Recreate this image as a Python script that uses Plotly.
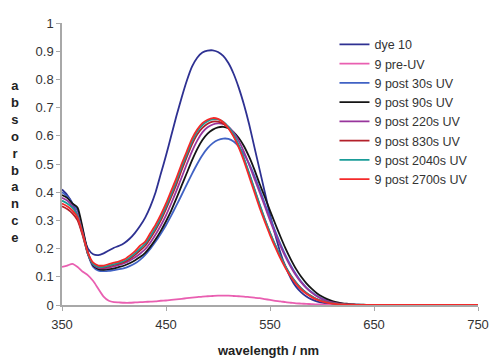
import plotly.graph_objects as go

wavelength = [350, 355, 360, 365, 370, 375, 380, 385, 390, 395, 400, 405, 410, 415, 420,
              425, 430, 435, 440, 445, 450, 455, 460, 465, 470, 475, 480, 485, 490, 495,
              500, 505, 510, 515, 520, 525, 530, 535, 540, 545, 550, 555, 560, 565, 570,
              575, 580, 585, 590, 595, 600, 605, 610, 615, 620, 625, 630, 635, 640, 645,
              650, 700, 750]

dye_10 = [0.41, 0.39, 0.36, 0.31, 0.25, 0.20, 0.18, 0.177, 0.183, 0.193, 0.203, 0.21, 0.22, 0.235, 0.255,
          0.28, 0.31, 0.35, 0.40, 0.465, 0.53, 0.60, 0.67, 0.735, 0.795, 0.845, 0.877, 0.895, 0.902, 0.903,
          0.897, 0.883, 0.858, 0.82, 0.77, 0.71, 0.64, 0.56, 0.48, 0.40, 0.32, 0.25, 0.185, 0.135, 0.095,
          0.065, 0.045, 0.03, 0.02, 0.013, 0.008, 0.005, 0.003, 0.002, 0.001, 0, 0, 0, 0, 0,
          0, 0, 0]

pre_uv = [0.135, 0.14, 0.146, 0.135, 0.118, 0.105, 0.085, 0.057, 0.03, 0.015, 0.01, 0.009, 0.008, 0.008, 0.009,
          0.01, 0.011, 0.012, 0.013, 0.015, 0.016, 0.018, 0.02, 0.022, 0.024, 0.026, 0.028, 0.03, 0.031, 0.032,
          0.033, 0.033, 0.033, 0.032, 0.031, 0.03, 0.028, 0.026, 0.024, 0.021, 0.018, 0.015, 0.013, 0.01, 0.008,
          0.006, 0.005, 0.004, 0.003, 0.002, 0.002, 0.001, 0.001, 0, 0, 0, 0, 0, 0, 0,
          0, 0, 0]

post_30s = [0.40, 0.385, 0.36, 0.335, 0.265, 0.18, 0.135, 0.122, 0.12, 0.121, 0.124, 0.127, 0.131, 0.138, 0.147,
            0.16, 0.178, 0.2, 0.225, 0.253, 0.283, 0.317, 0.353, 0.39, 0.428, 0.465, 0.5, 0.531, 0.556, 0.574,
            0.585, 0.59, 0.589, 0.58, 0.562, 0.535, 0.5, 0.458, 0.41, 0.36, 0.31, 0.262, 0.217, 0.176, 0.14,
            0.109, 0.083, 0.062, 0.046, 0.033, 0.023, 0.016, 0.01, 0.007, 0.004, 0.002, 0.001, 0.001, 0, 0,
            0, 0, 0]

post_90s = [0.39, 0.38, 0.36, 0.345, 0.27, 0.185, 0.14, 0.127, 0.125, 0.127, 0.13, 0.135, 0.14, 0.148, 0.158,
            0.17, 0.185, 0.207, 0.233, 0.263, 0.297, 0.335, 0.378, 0.423, 0.468, 0.513, 0.553, 0.585, 0.608, 0.622,
            0.63, 0.632, 0.627, 0.613, 0.592, 0.563, 0.525, 0.48, 0.43, 0.383, 0.335, 0.288, 0.243, 0.2, 0.162,
            0.128, 0.1, 0.077, 0.058, 0.042, 0.03, 0.021, 0.014, 0.009, 0.006, 0.004, 0.002, 0.001, 0.001, 0,
            0, 0, 0]

post_220s = [0.38, 0.37, 0.35, 0.32, 0.255, 0.18, 0.143, 0.132, 0.13, 0.132, 0.137, 0.142, 0.148, 0.157, 0.168,
             0.182, 0.198, 0.222, 0.25, 0.282, 0.318, 0.36, 0.405, 0.452, 0.5, 0.545, 0.583, 0.612, 0.63, 0.64,
             0.644, 0.642, 0.632, 0.612, 0.582, 0.543, 0.497, 0.448, 0.40, 0.35, 0.30, 0.253, 0.21, 0.17, 0.135,
             0.105, 0.08, 0.06, 0.044, 0.031, 0.021, 0.014, 0.009, 0.006, 0.004, 0.002, 0.001, 0, 0, 0,
             0, 0, 0]

post_830s = [0.35, 0.34, 0.325, 0.30, 0.245, 0.18, 0.145, 0.135, 0.133, 0.137, 0.142, 0.147, 0.153, 0.163, 0.177,
             0.193, 0.21, 0.237, 0.267, 0.30, 0.34, 0.383, 0.428, 0.478, 0.525, 0.57, 0.605, 0.628, 0.643, 0.65,
             0.65, 0.643, 0.627, 0.60, 0.563, 0.517, 0.464, 0.41, 0.355, 0.303, 0.256, 0.212, 0.172, 0.136, 0.105,
             0.08, 0.059, 0.043, 0.031, 0.021, 0.014, 0.009, 0.006, 0.004, 0.002, 0.001, 0.001, 0, 0, 0,
             0, 0, 0]

post_2040s = [0.37, 0.36, 0.345, 0.315, 0.25, 0.18, 0.145, 0.135, 0.135, 0.14, 0.145, 0.15, 0.157, 0.168, 0.183,
              0.20, 0.218, 0.245, 0.275, 0.31, 0.35, 0.393, 0.44, 0.49, 0.535, 0.58, 0.615, 0.638, 0.652, 0.658,
              0.658, 0.65, 0.632, 0.605, 0.567, 0.52, 0.467, 0.412, 0.357, 0.305, 0.257, 0.213, 0.172, 0.136, 0.105,
              0.08, 0.059, 0.043, 0.031, 0.021, 0.014, 0.009, 0.006, 0.004, 0.002, 0.001, 0.001, 0, 0, 0,
              0, 0, 0]

post_2700s = [0.36, 0.35, 0.335, 0.31, 0.25, 0.185, 0.15, 0.14, 0.14, 0.145, 0.15, 0.155, 0.162, 0.175, 0.19,
              0.21, 0.225, 0.255, 0.285, 0.32, 0.36, 0.405, 0.45, 0.50, 0.545, 0.59, 0.622, 0.645, 0.657, 0.663,
              0.66, 0.648, 0.627, 0.597, 0.558, 0.51, 0.455, 0.40, 0.345, 0.295, 0.248, 0.205, 0.165, 0.13, 0.10,
              0.075, 0.055, 0.04, 0.028, 0.019, 0.013, 0.008, 0.005, 0.003, 0.002, 0.001, 0.001, 0, 0, 0,
              0, 0, 0]

series_names = ["dye 10", "9 pre-UV", "9 post 30s UV", "9 post 90s UV", "9 post 220s UV",
                "9 post 830s UV", "9 post 2040s UV", "9 post 2700s UV"]
series_values = [dye_10, pre_uv, post_30s, post_90s, post_220s, post_830s, post_2040s, post_2700s]
series_colors = ["#2e3192", "#e95fb1", "#4062c4", "#151515", "#98359c", "#b3202a", "#1a9c98", "#f42a2a"]

x_ticks = [350, 450, 550, 650, 750]
y_ticks = [0, 0.1, 0.2, 0.3, 0.4, 0.5, 0.6, 0.7, 0.8, 0.9, 1]
y_tick_labels = ["0", "0.1", "0.2", "0.3", "0.4", "0.5", "0.6", "0.7", "0.8", "0.9", "1"]

fig = go.Figure()
for name, vals, col in zip(series_names, series_values, series_colors):
    fig.add_trace(go.Scatter(x=wavelength, y=vals, name=name, mode="lines",
                             line=dict(color=col, width=1.8, shape="spline", smoothing=0.6)))

font_family = "Liberation Sans, Arial, sans-serif"
# page body has an 8px margin; figure size/margins compensate for it
fig.update_layout(
    width=489, height=352,
    margin=dict(l=54, r=11, t=8, b=55),
    paper_bgcolor="white", plot_bgcolor="white",
    font=dict(family=font_family, size=13, color="#333333"),
    showlegend=True,
    legend=dict(x=0.655, y=0.976, xanchor="left", yanchor="top",
                font=dict(size=12.5, color="#333333"), bgcolor="rgba(0,0,0,0)",
                tracegroupgap=0),
    xaxis=dict(range=[350, 750], tickvals=x_ticks, ticktext=[str(v) for v in x_ticks],
               showgrid=False, zeroline=False, showline=True, linecolor="#a8a8a8", linewidth=1.5,
               ticks="outside", ticklen=4, tickcolor="#a8a8a8", tickwidth=1, ticklabelstandoff=3),
    yaxis=dict(range=[0, 1], tickvals=y_ticks, ticktext=y_tick_labels,
               showgrid=False, zeroline=False, showline=True, linecolor="#a8a8a8", linewidth=1.5,
               ticks="outside", ticklen=4, tickcolor="#a8a8a8", tickwidth=1, ticklabelstandoff=0),
)

fig.add_annotation(text="<b>" + "<br>".join(list("absorbance")) + "</b>",
                   xref="paper", yref="paper", x=-0.113, y=0.510, xanchor="center", yanchor="middle",
                   showarrow=False, font=dict(family=font_family, size=13, color="#222222"))
fig.add_annotation(text="<b>wavelength / nm</b>",
                   xref="paper", yref="paper", x=0.495, y=-0.162, xanchor="center", yanchor="middle",
                   showarrow=False, font=dict(family=font_family, size=13, color="#222222"))

fig.write_html("out.html")
